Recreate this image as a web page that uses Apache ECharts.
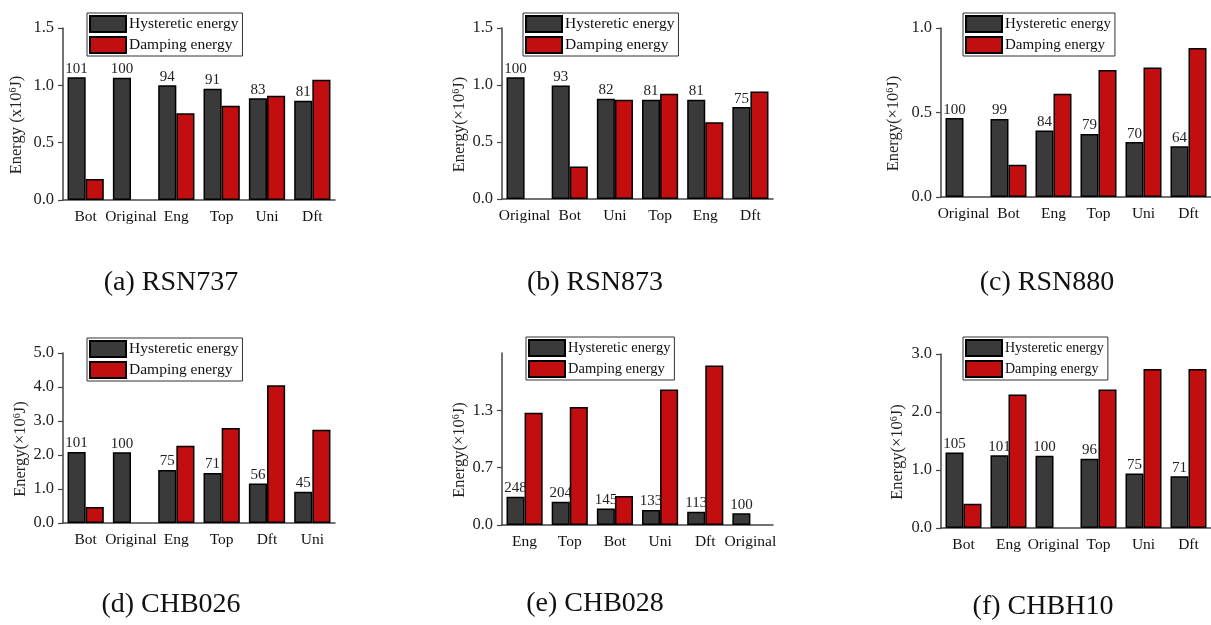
<!DOCTYPE html>
<html>
<head>
<meta charset="utf-8">
<script src="https://cdn.jsdelivr.net/npm/echarts@6/dist/echarts.min.js"></script>
<style>html,body{margin:0;padding:0;background:#fff}#c{width:1211px;height:625px}</style>
</head>
<body>
<div id="c"></div>
<script>
// ---- data ----
const catsA = ['Bot','Original','Eng','Top','Uni','Dft'];
const hystA = [1.070,1.066,1.000,0.970,0.888,0.865];
const dampA = [0.183,'-',0.757,0.821,0.909,1.049];
const pctA  = ['101','100','94','91','83','81'];

const catsB = ['Original','Bot','Uni','Top','Eng','Dft'];
const hystB = [1.069,0.996,0.879,0.870,0.870,0.806];
const dampB = ['-',0.284,0.870,0.923,0.674,0.943];
const pctB  = ['100','93','82','81','81','75'];

const catsC = ['Original','Bot','Eng','Top','Uni','Dft'];
const hystC = [0.467,0.462,0.393,0.373,0.325,0.300];
const dampC = ['-',0.191,0.611,0.751,0.767,0.882];
const pctC  = ['100','99','84','79','70','64'];

const catsD = ['Bot','Original','Eng','Top','Dft','Uni'];
const hystD = [2.09,2.08,1.56,1.47,1.16,0.92];
const dampD = [0.47,'-',2.275,2.794,4.049,2.745];
const pctD  = ['101','100','75','71','56','45'];

const catsE = ['Eng','Top','Bot','Uni','Dft','Original'];
const hystE = [0.320,0.264,0.188,0.170,0.151,0.132];
const dampE = [1.274,1.338,0.328,1.537,1.809,'-'];
const pctE  = ['248','204','145','133','113','100'];

const catsF = ['Bot','Eng','Original','Top','Uni','Dft'];
const hystF = [1.301,1.255,1.244,1.192,0.938,0.892];
const dampF = [0.420,2.303,'-',2.389,2.740,2.740];
const pctF  = ['105','101','100','96','75','71'];

const panelTitles = ['(a) RSN737','(b) RSN873','(c) RSN880','(d) CHB026','(e) CHB028','(f) CHBH10'];
const yNames = ['Energy (x10{s|6}J)','Energy(×10{s|6}J)','Energy(×10{s|6}J)','Energy(×10{s|6}J)','Energy(×10{s|6}J)','Energy(×10{s|6}J)'];
const yMax = [1.5,1.5,1.0,5.0,1.95,3.0];
const yInterval = [0.5,0.5,0.5,1.0,0.65,1.0];

const cats = [catsA,catsB,catsC,catsD,catsE,catsF];
const hyst = [hystA,hystB,hystC,hystD,hystE,hystF];
const damp = [dampA,dampB,dampC,dampD,dampE,dampF];
const pcts = [pctA,pctB,pctC,pctD,pctE,pctF];

// ---- layout ----
const FONT = '"Liberation Serif","Times New Roman",serif';
const grids = [
  {left:63, top:28, width:272, height:172},
  {left:502, top:28, width:271, height:171},
  {left:941, top:28, width:270, height:169},
  {left:63, top:353, width:272, height:170},
  {left:502, top:353, width:271, height:172},
  {left:941, top:354, width:270, height:174}
];
const legendPos = [
  {left:87, top:13, fs:15.5},
  {left:523, top:13, fs:15.5},
  {left:963, top:13, fs:15},
  {left:87, top:338, fs:15.5},
  {left:526, top:337, fs:14.5},
  {left:963, top:337, fs:14}
];
const nameGaps = [37,32,38,33,33,34];
const titlePos = [[171,283],[595,283],[1047,283],[171,605],[595,604],[1043,607]];

const axisColor = '#444';
const xAxes = [], yAxes = [], series = [], legends = [], graphics = [];
for (let i = 0; i < 6; i++) {
  xAxes.push({
    type:'category', gridIndex:i, data:cats[i],
    axisLine:{lineStyle:{color:axisColor,width:1.5}},
    axisTick:{show:false},
    axisLabel:{color:'#111',fontFamily:FONT,fontSize:15.5,margin:9,interval:0}
  });
  yAxes.push({
    type:'value', gridIndex:i, min:0, max:yMax[i], interval:yInterval[i],
    splitLine:{show:false},
    axisLine:{show:true,lineStyle:{color:axisColor,width:1.5}},
    axisTick:{show:true,length:5,lineStyle:{color:axisColor,width:1.2}},
    axisLabel:{color:'#222',fontFamily:FONT,fontSize:16.5,margin:9,showMaxLabel:i!==4,
      formatter:v=>v.toFixed(1)},
    name:yNames[i], nameLocation:'middle', nameGap:nameGaps[i], nameRotate:90,
    nameTextStyle:{color:'#222',fontFamily:FONT,fontSize:16.5,padding:[0,22,0,0],
      rich:{s:{fontSize:10,fontFamily:FONT,color:'#222',padding:[0,0,8,0]}}}
  });
  const p = pcts[i];
  series.push({
    name:'Hysteretic energy', type:'bar', xAxisIndex:i, yAxisIndex:i, data:hyst[i],
    barGap:'0%', barCategoryGap:'20%',
    itemStyle:{color:'#3a3a3a',borderColor:'#000',borderWidth:1.5},
    label:{show:true,position:'top',distance:1,color:'#222',fontFamily:FONT,fontSize:15,
      formatter:prm=>p[prm.dataIndex]}
  });
  series.push({
    name:'Damping energy', type:'bar', xAxisIndex:i, yAxisIndex:i, data:damp[i],
    barGap:'0%', barCategoryGap:'20%',
    itemStyle:{color:'#c20e0e',borderColor:'#000',borderWidth:1.5}
  });
  legends.push({
    left:legendPos[i].left, top:legendPos[i].top, orient:'vertical',
    data:[{name:'Hysteretic energy',icon:'rect'},{name:'Damping energy',icon:'rect'}],
    itemWidth:36, itemHeight:16, itemGap:3, selectedMode:false,
    borderColor:'#333', borderWidth:1, padding:[2,4,2,2],
    textStyle:{color:'#111',fontFamily:FONT,fontSize:legendPos[i].fs,padding:[0,0,0,-2]}
  });
  graphics.push({
    type:'text', x:titlePos[i][0], y:titlePos[i][1],
    style:{text:panelTitles[i],fill:'#111',font:'28px '+FONT,textAlign:'center',textVerticalAlign:'middle'}
  });
}

const chart = echarts.init(document.getElementById('c'), null, {renderer:'canvas'});
chart.setOption({
  animation:false,
  backgroundColor:'#fff',
  grid:grids.map(g=>Object.assign({containLabel:false},g)),
  xAxis:xAxes, yAxis:yAxes, series:series, legend:legends, graphic:graphics
});
</script>
</body>
</html>
